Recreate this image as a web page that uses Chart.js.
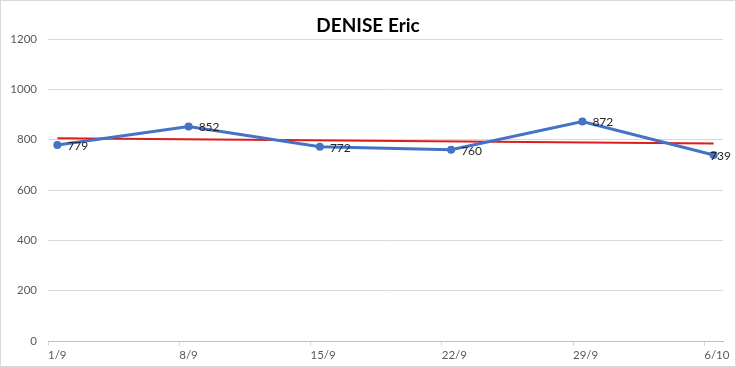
<!DOCTYPE html>
<html>
<head>
<meta charset="utf-8">
<script src="https://cdn.jsdelivr.net/npm/chart.js@4"></script>
<style>
  html, body { margin: 0; padding: 0; background: #fff; }
  #wrap { width: 736px; height: 367px; }
</style>
</head>
<body>
<div id="wrap"><canvas id="chart" width="736" height="367"></canvas></div>
<script>
// --- DATA ---
const chartTitle = 'DENISE Eric';
const dateLabels = ['1/9', '8/9', '15/9', '22/9', '29/9', '6/10'];
const dayOffsets = [0, 7, 14, 21, 28, 35];      // days since 1/9
const values = [779, 852, 772, 760, 872, 739];
const trendDays = [0, 35];
const trendValues = [806, 785];                 // red trend line

const pointData = dayOffsets.map((d, i) => ({ x: d + 0.5, y: values[i] }));
const trendData = trendDays.map((d, i) => ({ x: d + 0.5, y: trendValues[i] }));

// white background, thin frame and the title
const framePlugin = {
    id: 'frame',
    beforeDraw(chart) {
        const ctx = chart.ctx;
        ctx.save();
        ctx.fillStyle = '#fff';
        ctx.fillRect(0, 0, chart.width, chart.height);
        ctx.strokeStyle = '#d9d9d9';
        ctx.lineWidth = 1;
        ctx.strokeRect(0.5, 0.5, chart.width - 1, chart.height - 1);
        ctx.fillStyle = '#000';
        ctx.font = 'bold 19px Lato';
        ctx.textAlign = 'center';
        ctx.textBaseline = 'middle';
        ctx.fillText(chartTitle, 368, 26);
        ctx.restore();
    }
};

// value labels to the right of each point (pushed back inside at the right edge)
const valueLabels = {
    id: 'valueLabels',
    afterDatasetsDraw(chart) {
        const ctx = chart.ctx;
        const meta = chart.getDatasetMeta(0);
        ctx.save();
        ctx.fillStyle = '#262626';
        ctx.font = '12px Lato';
        ctx.textAlign = 'left';
        ctx.textBaseline = 'middle';
        meta.data.forEach((pt, i) => {
            const txt = String(values[i]);
            const w = ctx.measureText(txt).width;
            const x = Math.min(pt.x + 10, chart.width - 5 - w);
            ctx.fillText(txt, x, pt.y + 1);
        });
        ctx.restore();
    }
};

new Chart(document.getElementById('chart'), {
    type: 'line',
    data: {
        datasets: [
            {
                label: 'Valeurs',
                data: pointData,
                borderColor: '#4472c4',
                backgroundColor: '#4472c4',
                borderWidth: 3,
                pointRadius: 4,
                pointBackgroundColor: '#4472c4',
                pointBorderWidth: 0,
                tension: 0
            },
            {
                label: 'Tendance',
                data: trendData,
                borderColor: '#dd1c1c',
                borderWidth: 2,
                pointRadius: 0,
                tension: 0
            }
        ]
    },
    options: {
        responsive: false,
        animation: false,
        layout: { padding: { top: 39, right: 13, left: 0, bottom: 0 } },
        plugins: {
            legend: { display: false },
            tooltip: { enabled: false }
        },
        scales: {
            x: {
                type: 'linear',
                min: 0,
                max: 36,
                afterBuildTicks: axis => {
                    axis.ticks = dayOffsets.map(v => ({ value: v }));
                },
                afterFit: axis => { axis.height = 26; },
                ticks: {
                    align: 'start',
                    color: '#595959',
                    font: { family: 'Lato', size: 11.5 },
                    padding: 2,
                    maxRotation: 0,
                    autoSkip: false,
                    callback: v => dateLabels[dayOffsets.indexOf(v)]
                },
                grid: {
                    drawOnChartArea: false,
                    drawTicks: true,
                    tickLength: 5,
                    color: '#d9d9d9'
                },
                border: { display: true, color: '#bfbfbf' }
            },
            y: {
                min: 0,
                max: 1200,
                afterFit: axis => { axis.width = 48; },
                ticks: {
                    stepSize: 200,
                    color: '#595959',
                    font: { family: 'Lato', size: 11.5 },
                    padding: 11,
                    callback: v => String(v)
                },
                grid: {
                    color: '#d9d9d9',
                    drawTicks: false
                },
                border: { display: false }
            }
        }
    },
    plugins: [framePlugin, valueLabels]
});
</script>
</body>
</html>
